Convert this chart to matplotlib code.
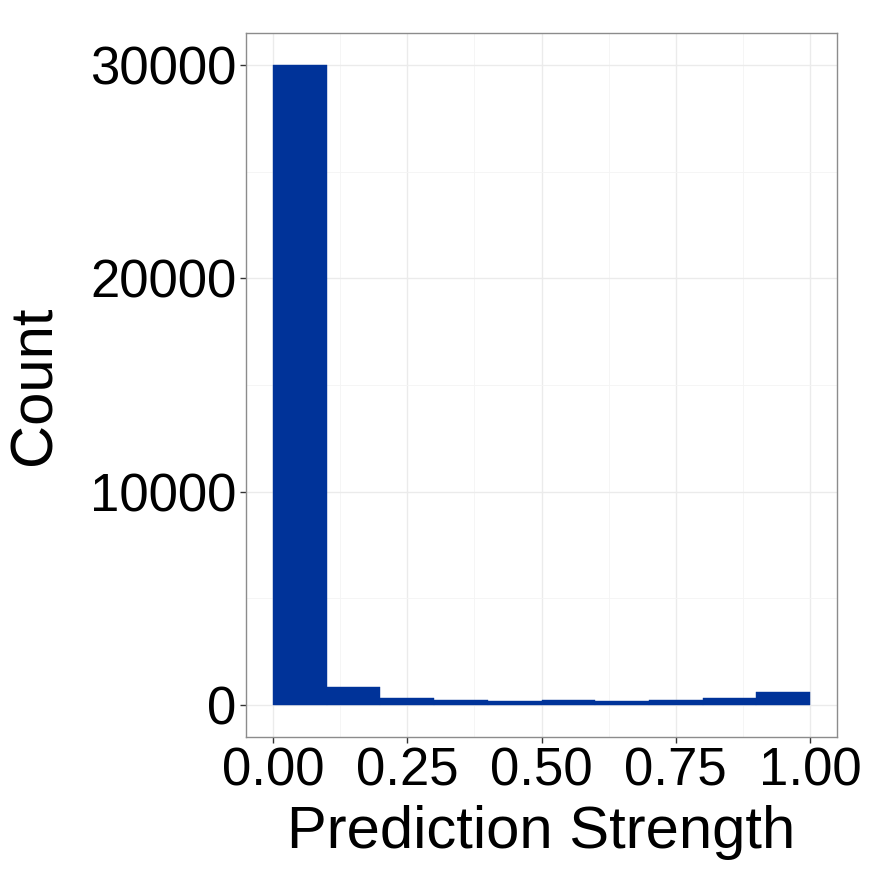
import matplotlib
matplotlib.use("Agg")
import matplotlib.pyplot as plt
import numpy as np

bin_left = [0.0, 0.1, 0.2, 0.3, 0.4, 0.5, 0.6, 0.7, 0.8, 0.9]
counts = [30000, 865, 350, 235, 205, 235, 175, 255, 330, 630]
bin_width = 0.1
x_ticks = [0.0, 0.25, 0.5, 0.75, 1.0]
x_tick_labels = ["0.00", "0.25", "0.50", "0.75", "1.00"]
y_ticks = [0, 10000, 20000, 30000]
y_tick_labels = ["0", "10000", "20000", "30000"]

plt.rcParams['font.family'] = ['Liberation Sans', 'DejaVu Sans']

fig = plt.figure(figsize=(8.72, 8.72), dpi=100)
ax = fig.add_axes([246/872, 1-737/872, (837-246)/872, (737-33)/872])

ax.bar(bin_left, counts, width=bin_width, align='edge', color='#003399',
       edgecolor='#003399', linewidth=0.3, zorder=3)

ax.set_xlim(-0.05, 1.05)
ax.set_ylim(-1500, 31500)
ax.set_xticks(x_ticks)
ax.set_xticklabels(x_tick_labels)
ax.set_yticks(y_ticks)
ax.set_yticklabels(y_tick_labels)
ax.set_xticks([0.125, 0.375, 0.625, 0.875], minor=True)
ax.set_yticks([5000, 15000, 25000], minor=True)

ax.grid(which='major', color='#EBEBEB', linewidth=1.0, zorder=0)
ax.grid(which='minor', color='#F4F4F4', linewidth=0.6, zorder=0)
ax.set_axisbelow(True)

for s in ax.spines.values():
    s.set_color('#8C8C8C')
    s.set_linewidth(1.0)

ax.tick_params(which='major', length=4, width=1, color='#333333',
               labelsize=38, labelcolor='black', pad=3)
ax.tick_params(which='minor', length=0)

ax.set_xlabel('Prediction Strength', fontsize=43, labelpad=6)
ax.set_ylabel('Count', fontsize=43, labelpad=20)

fig.savefig('out.png', dpi=100, facecolor='white')
